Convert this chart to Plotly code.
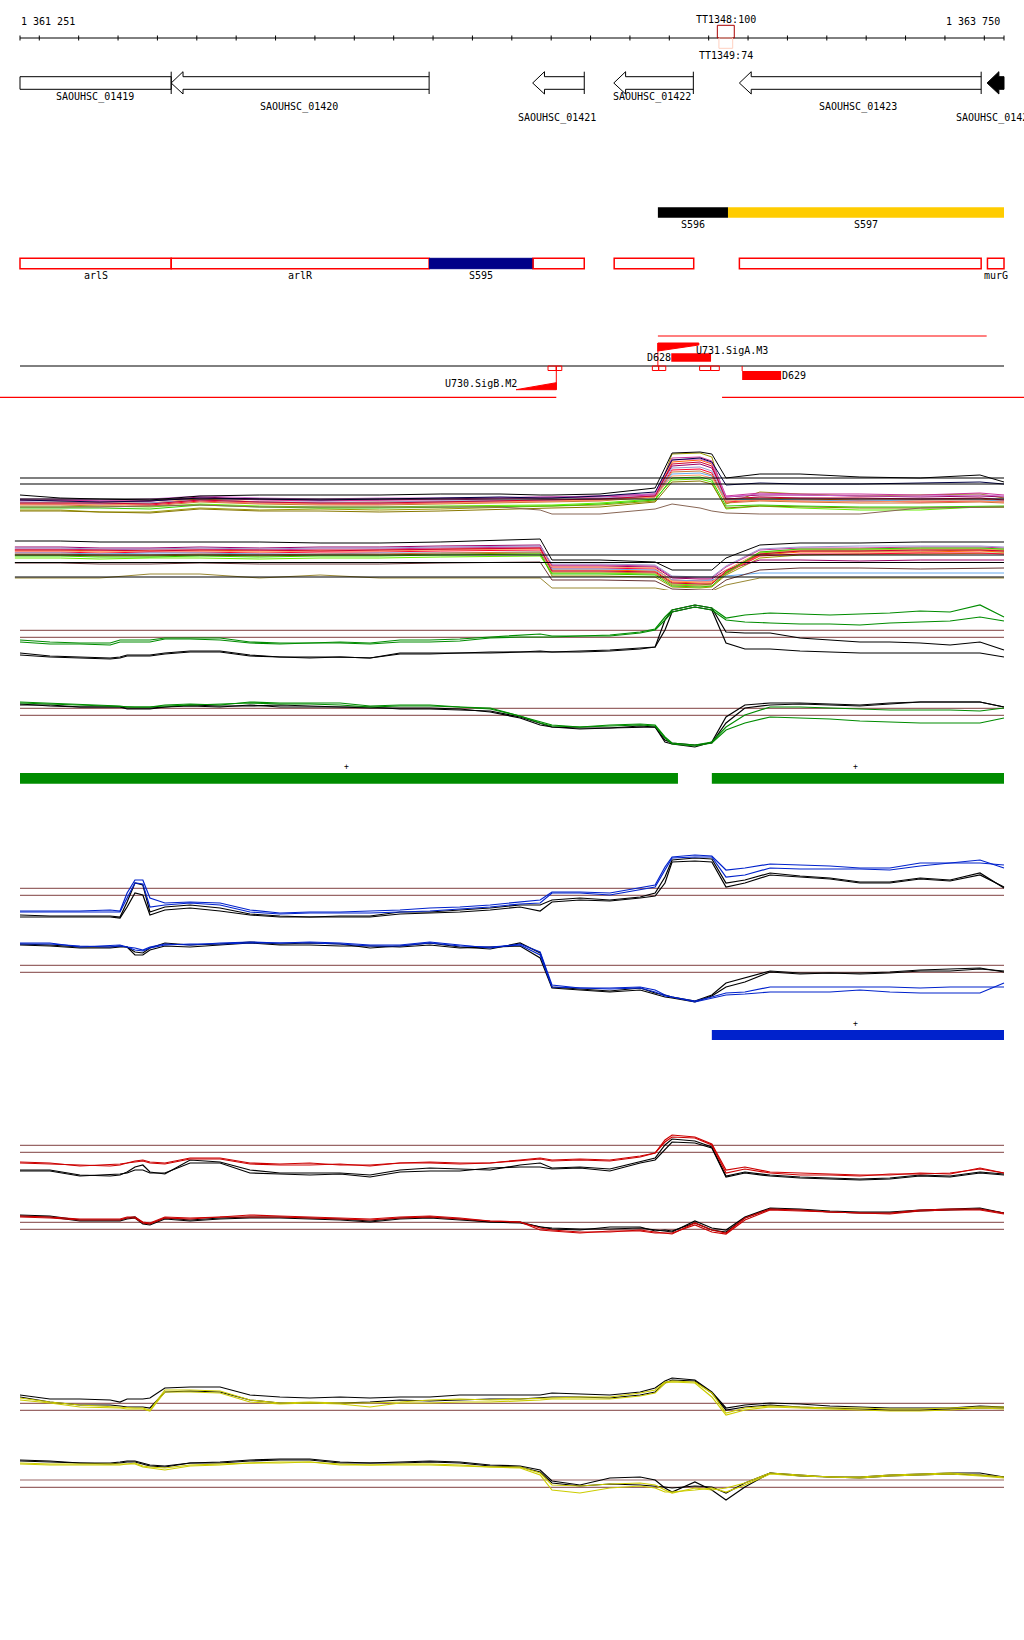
import plotly.graph_objects as go

# ---------------- view / scale ----------------
VIEW_START = 1361251
VIEW_END = 1363750
PLOT_W, PLOT_H = 1024, 1640
PX_LEFT, PX_RIGHT = 20, 1004
BP_PER_PX = (VIEW_END - VIEW_START) / (PX_RIGHT - PX_LEFT)
X_RANGE = [VIEW_START - PX_LEFT * BP_PER_PX, VIEW_END + (PLOT_W - PX_RIGHT) * BP_PER_PX]
FONT = "DejaVu Sans Mono"

SCALE_TICKS = [1361251, 1361300, 1361400, 1361500, 1361600, 1361700, 1361800, 1361900,
               1362000, 1362100, 1362200, 1362300, 1362400, 1362500, 1362600, 1362700,
               1362800, 1362900, 1363000, 1363100, 1363200, 1363300, 1363400, 1363500,
               1363600, 1363700, 1363750]

TERM_NAMES = ["TT1348:100", "TT1349:74"]
TERM_START = [1363022, 1363026]
TERM_END = [1363065, 1363061]

# ---------------- genes (CDS arrows) ----------------
GENE_NAMES = ["SAOUHSC_01419", "SAOUHSC_01420", "SAOUHSC_01421", "SAOUHSC_01422",
              "SAOUHSC_01423", "SAOUHSC_01424"]
GENE_START = [1361251, 1361635, 1362553, 1362759, 1363078, 1363707]
GENE_END = [1361635, 1362290, 1362684, 1362961, 1363692, 1363750]
GENE_HEAD = [False, True, True, True, True, True]
GENE_FILLED = [False, False, False, False, False, True]
GENE_LABEL_X = [1361441, 1361960, 1362615, 1362856, 1363379, 1363626]
GENE_LABEL_ROW = [0, 1, 2, 0, 1, 2]
GENE_LABEL_ANCHOR = ["center", "center", "center", "center", "center", "left"]
HEAD_BP = 30

# ---------------- segments ----------------
SEG_NAMES = ["S596", "S597"]
SEG_START = [1362871, 1363049]
SEG_END = [1363049, 1363750]
SEG_COLORS = ["#000000", "#FFCC00"]

# ---------------- annotated genes / transcripts ----------------
BOX_NAMES = ["arlS", "arlR", "S595", "", "", "", "murG"]
BOX_START = [1361251, 1361635, 1362291, 1362554, 1362760, 1363078, 1363708]
BOX_END = [1361635, 1362290, 1362554, 1362684, 1362962, 1363692, 1363750]
BOX_FILL = [None, None, "#000088", None, None, None, None]

# ---------------- regulatory features ----------------
PROMOTER_NAMES = ["U730.SigB.M2", "U731.SigA.M3"]
PROMOTER_START = [1362511, 1362871]
PROMOTER_END = [1362613, 1362975]
DOWN_NAMES = ["D628", "D629"]
DOWN_START = [1362905, 1363085]
DOWN_END = [1363006, 1363184]
SMALL_BOX_START = [1362592, 1362613, 1362857, 1362873, 1362977, 1363005]
SMALL_BOX_END = [1362613, 1362627, 1362873, 1362891, 1363005, 1363027]
RED_LOW_START = [1361200, 1363034]
RED_LOW_END = [1362613, 1363801]
RED_HIGH_START = [1362871]
RED_HIGH_END = [1363706]

# ---------------- track A: tiling array, many conditions ----------------
XA = [1361251, 1361353, 1361454, 1361581, 1361708, 1361860, 1362013, 1362165, 1362318, 1362470,
      1362572, 1362602, 1362724, 1362864, 1362907, 1362978, 1363008, 1363044, 1363130, 1363232,
      1363384, 1363537, 1363689, 1363750]
XA_LO = [1361238] + XA[1:]

A_UP_COLORS = ["#FF6600", "#999900", "#66EE00", "#990066", "#FF0033", "#66AAEE", "#CC3399",
               "#CC7733", "#FF9966", "#9999CC", "#887700", "#CC0033", "#33CC00", "#CC66CC", "#000044"]
A_UP_SERIES = [
    [97, 98, 97, 97, 101, 98, 97, 98, 98, 99, 100, 100, 101, 104, 138, 140, 136, 100, 102, 101, 100, 100, 101, 99],
    [90, 90, 88, 88, 92, 90, 91, 90, 91, 93, 94, 94, 95, 99, 146, 147, 143, 96, 108, 106, 104, 105, 106, 102],
    [93, 93, 94, 93, 96, 94, 93, 93, 94, 95, 95, 95, 97, 101, 120, 121, 118, 91, 94, 92, 90, 90, 93, 93],
    [100, 100, 99, 99, 103, 101, 100, 100, 101, 102, 103, 103, 104, 106, 134, 136, 132, 103, 105, 105, 104, 103, 104, 103],
    [96, 96, 96, 95, 99, 97, 96, 96, 97, 98, 99, 99, 100, 104, 130, 131, 127, 98, 100, 99, 99, 98, 99, 98],
    [97, 97, 96, 97, 100, 98, 97, 97, 98, 99, 100, 100, 101, 103, 126, 127, 124, 100, 101, 100, 99, 100, 100, 99],
    [99, 100, 99, 99, 102, 100, 99, 100, 100, 101, 102, 102, 103, 105, 142, 143, 139, 104, 107, 106, 106, 105, 107, 105],
    [95, 95, 94, 94, 98, 96, 95, 95, 96, 97, 98, 98, 99, 103, 128, 129, 125, 97, 99, 98, 97, 97, 98, 97],
    [96, 97, 95, 96, 100, 97, 96, 97, 97, 98, 99, 99, 100, 103, 124, 125, 122, 99, 100, 99, 98, 99, 99, 98],
    [98, 98, 97, 97, 100, 98, 98, 98, 99, 100, 100, 100, 102, 104, 132, 133, 129, 101, 103, 102, 101, 101, 102, 101],
    [89, 89, 88, 87, 91, 89, 89, 88, 89, 91, 92, 92, 93, 98, 118, 119, 116, 92, 94, 93, 92, 92, 93, 93],
    [97, 97, 97, 96, 100, 98, 97, 97, 98, 99, 100, 100, 101, 104, 136, 138, 134, 101, 103, 102, 102, 101, 102, 100],
    [92, 92, 92, 91, 95, 93, 92, 92, 93, 94, 94, 94, 96, 100, 122, 123, 120, 94, 95, 94, 93, 93, 94, 94],
    [101, 101, 100, 101, 104, 102, 101, 102, 102, 103, 103, 103, 104, 106, 140, 141, 137, 103, 106, 105, 104, 104, 105, 104],
    [100, 99, 98, 99, 102, 101, 100, 101, 102, 103, 102, 102, 104, 108, 140, 142, 138, 115, 117, 116, 116, 117, 118, 116],
]
A_UP_BLACK = [105, 102, 101, 100, 104, 105, 105, 105, 106, 106, 105, 105, 106, 112, 147, 148, 146, 122, 126, 126, 123, 122, 125, 118]
A_UP_BROWN = [93, 93, 93, 94, 95, 93, 93, 93, 93, 93, 90, 86, 86, 91, 96, 92, 89, 87, 86, 86, 86, 92, 93, 93]
A_UP_REFS = [122, 116, 101]

A_LO_COLORS = ["#FF6600", "#999900", "#66EE00", "#990066", "#FF0033", "#66AAEE", "#CC3399",
               "#CC7733", "#FF9966", "#9999CC", "#663333", "#CC0033", "#33CC00", "#998833"]
A_LO_SERIES = [
    [50, 50, 49, 50, 50, 49, 50, 50, 51, 52, 52, 30, 30, 29, 18, 17, 17, 28, 45, 48, 48, 48, 49, 48],
    [45, 45, 44, 44, 45, 44, 45, 45, 46, 47, 47, 24, 24, 23, 13, 12, 13, 25, 42, 45, 46, 46, 47, 47],
    [42, 42, 41, 42, 42, 41, 42, 42, 43, 44, 44, 27, 27, 26, 16, 15, 16, 28, 47, 50, 50, 51, 51, 50],
    [53, 53, 52, 52, 53, 52, 53, 53, 54, 55, 55, 34, 34, 33, 22, 21, 21, 30, 40, 40, 39, 40, 40, 40],
    [48, 48, 47, 48, 48, 47, 48, 48, 49, 50, 50, 32, 32, 31, 20, 19, 19, 27, 44, 46, 46, 47, 47, 46],
    [47, 47, 46, 47, 47, 46, 46, 47, 47, 48, 48, 31, 31, 30, 20, 19, 20, 24, 27, 27, 27, 27, 27, 27],
    [51, 51, 50, 51, 51, 50, 51, 51, 52, 53, 53, 35, 35, 34, 23, 22, 22, 33, 50, 52, 52, 53, 53, 52],
    [46, 46, 45, 45, 46, 45, 46, 46, 47, 48, 48, 28, 28, 27, 15, 14, 14, 26, 46, 49, 49, 49, 50, 49],
    [49, 49, 48, 49, 49, 48, 49, 49, 50, 51, 51, 33, 33, 32, 19, 18, 18, 30, 48, 50, 51, 51, 51, 50],
    [52, 52, 51, 51, 52, 51, 52, 52, 53, 54, 54, 36, 36, 35, 24, 23, 23, 34, 51, 53, 54, 54, 54, 53],
    [37, 37, 36, 36, 37, 36, 36, 36, 37, 38, 38, 20, 20, 19, 11, 10, 10, 20, 30, 32, 32, 31, 32, 32],
    [50, 50, 50, 49, 50, 50, 49, 50, 51, 52, 52, 29, 29, 28, 17, 16, 16, 29, 46, 49, 49, 50, 50, 49],
    [44, 44, 43, 43, 44, 43, 44, 44, 45, 46, 46, 26, 26, 25, 14, 13, 14, 27, 48, 51, 51, 52, 52, 51],
    [22, 22, 22, 26, 26, 22, 25, 22, 22, 22, 22, 12, 12, 12, 9, 8, 9, 15, 22, 22, 22, 22, 22, 22],
]
A_LO_BLACK = [59, 59, 58, 58, 58, 58, 57, 57, 58, 60, 61, 40, 40, 38, 30, 30, 30, 42, 55, 57, 57, 58, 58, 58]
A_LO_REFS = [45, 37.5, 23]

# ---------------- tracks B-E: paired conditions ----------------
XG = [1361251, 1361327, 1361403, 1361480, 1361505, 1361523, 1361543, 1361563, 1361581, 1361619,
      1361683, 1361759, 1361835, 1361911, 1361987, 1362064, 1362140, 1362216, 1362292, 1362368,
      1362445, 1362521, 1362572, 1362602, 1362673, 1362749, 1362826, 1362864, 1362889, 1362907,
      1362965, 1363008, 1363044, 1363092, 1363156, 1363232, 1363308, 1363384, 1363460, 1363537,
      1363613, 1363689, 1363750]

B_UP_G1 = [120, 118, 117, 117, 120, 120, 120, 120, 120, 122, 122, 122, 118, 117, 117, 118, 117, 120, 120, 121, 123, 125, 126, 124, 124, 125, 128, 131, 143, 150, 155, 152, 142, 145, 147, 146, 145, 146, 147, 149, 148, 155, 143]
B_UP_G2 = [118, 116, 116, 115, 118, 118, 118, 118, 118, 121, 121, 120, 117, 116, 117, 117, 116, 118, 118, 119, 122, 123, 123, 123, 124, 124, 127, 130, 140, 148, 153, 150, 140, 138, 137, 136, 136, 135, 137, 138, 139, 143, 139]
B_UP_K1 = [107, 104, 103, 102, 103, 105, 105, 105, 105, 107, 109, 109, 105, 103, 103, 103, 102, 107, 107, 107, 108, 108, 109, 108, 109, 110, 112, 113, 140, 150, 155, 152, 128, 127, 127, 122, 120, 118, 118, 117, 115, 118, 110]
B_UP_K2 = [105, 103, 102, 101, 102, 104, 104, 104, 104, 106, 108, 108, 104, 103, 102, 103, 102, 106, 106, 107, 107, 108, 108, 108, 108, 109, 111, 113, 130, 148, 153, 150, 117, 111, 111, 109, 108, 107, 107, 107, 107, 107, 103]
B_DN_G1 = [58, 57, 56, 55, 54, 53, 53, 53, 53, 55, 56, 55, 58, 57, 57, 57, 54, 55, 55, 53, 52, 44, 38, 35, 33, 35, 36, 35, 23, 17, 15, 18, 33, 45, 53, 53, 52, 51, 50, 50, 50, 49, 52]
B_DN_G2 = [57, 56, 55, 54, 53, 53, 53, 53, 53, 54, 55, 56, 57, 56, 56, 55, 53, 54, 54, 53, 51, 44, 37, 34, 33, 34, 35, 34, 22, 16, 14, 17, 30, 37, 43, 42, 41, 39, 38, 37, 37, 37, 42]
B_DN_K1 = [55, 55, 53, 53, 53, 52, 52, 52, 52, 53, 55, 54, 54, 55, 54, 53, 52, 52, 52, 51, 48, 42, 35, 33, 31, 32, 33, 33, 18, 16, 13, 18, 43, 55, 57, 57, 56, 55, 57, 58, 58, 58, 53]
B_DN_K2 = [56, 54, 53, 53, 53, 51, 51, 51, 51, 53, 54, 53, 55, 53, 53, 53, 53, 51, 51, 50, 49, 43, 37, 33, 32, 32, 34, 33, 20, 17, 15, 17, 37, 52, 55, 56, 55, 54, 56, 58, 58, 58, 53]
B_REFS = [129.7, 122.7, 51.7, 44.7]

C_UP_B1 = [99, 99, 99, 100, 99, 117, 130, 130, 112, 107, 108, 107, 100, 97, 98, 98, 99, 100, 102, 103, 105, 108, 110, 118, 118, 117, 122, 125, 143, 153, 155, 154, 140, 142, 146, 145, 144, 142, 142, 147, 147, 150, 142]
C_UP_B2 = [98, 98, 98, 98, 98, 112, 127, 126, 103, 105, 107, 105, 98, 96, 97, 97, 97, 98, 99, 101, 103, 106, 107, 117, 117, 115, 120, 123, 140, 152, 153, 153, 133, 135, 142, 141, 141, 141, 140, 144, 147, 147, 145]
C_UP_K1 = [95, 94, 94, 94, 93, 108, 127, 125, 98, 103, 105, 102, 96, 94, 93, 94, 94, 98, 98, 100, 102, 105, 105, 110, 112, 110, 113, 117, 133, 150, 152, 151, 127, 130, 137, 134, 132, 128, 128, 132, 130, 137, 122]
C_UP_K2 = [93, 93, 93, 93, 92, 103, 117, 115, 95, 100, 102, 99, 95, 93, 93, 93, 93, 96, 97, 98, 100, 103, 99, 108, 110, 109, 112, 114, 127, 148, 149, 148, 123, 127, 135, 133, 131, 127, 127, 131, 129, 135, 123]
C_DN_B1 = [67, 67, 63, 64, 65, 63, 62, 60, 63, 66, 65, 67, 68, 67, 68, 67, 65, 65, 68, 65, 62, 66, 58, 25, 22, 22, 23, 20, 15, 13, 9, 13, 17, 18, 23, 23, 23, 23, 23, 22, 23, 23, 23]
C_DN_B2 = [66, 66, 64, 63, 64, 63, 60, 59, 62, 65, 66, 66, 67, 67, 67, 66, 64, 64, 67, 64, 63, 65, 55, 23, 22, 21, 22, 18, 14, 13, 8, 12, 15, 16, 18, 18, 18, 20, 18, 17, 17, 17, 27]
C_DN_K1 = [66, 65, 63, 63, 64, 63, 58, 57, 62, 67, 65, 66, 68, 66, 67, 66, 62, 64, 67, 63, 61, 67, 57, 23, 21, 19, 22, 17, 15, 13, 9, 15, 27, 32, 39, 37, 37, 37, 38, 40, 41, 42, 38]
C_DN_K2 = [65, 64, 62, 62, 63, 63, 55, 55, 60, 64, 63, 65, 67, 65, 65, 64, 64, 63, 65, 62, 63, 64, 52, 22, 20, 18, 20, 16, 13, 12, 8, 14, 23, 28, 38, 36, 37, 36, 37, 39, 39, 41, 39]
C_REFS = [121.7, 114.7, 44.7, 37.7]

D_UP_R1 = [128, 127, 124, 125, 126, 127, 129, 130, 128, 127, 132, 132, 127, 126, 127, 125, 125, 127, 128, 127, 127, 130, 132, 130, 131, 130, 134, 137, 150, 155, 153, 146, 120, 123, 118, 117, 116, 115, 115, 117, 116, 122, 117]
D_UP_R2 = [127, 126, 125, 124, 125, 127, 128, 129, 127, 126, 131, 131, 126, 125, 125, 126, 124, 127, 127, 126, 127, 129, 131, 129, 130, 129, 133, 137, 148, 153, 152, 145, 117, 121, 117, 115, 115, 114, 116, 116, 117, 121, 117]
D_UP_K1 = [120, 120, 115, 114, 115, 118, 123, 125, 118, 116, 130, 128, 120, 117, 117, 117, 115, 120, 122, 121, 120, 125, 127, 122, 123, 121, 128, 132, 145, 151, 149, 143, 114, 118, 115, 113, 112, 111, 112, 115, 114, 118, 116]
D_UP_K2 = [119, 119, 114, 115, 116, 117, 120, 120, 117, 117, 127, 127, 117, 116, 115, 116, 113, 118, 119, 119, 122, 123, 123, 121, 122, 119, 127, 130, 140, 148, 147, 142, 113, 117, 114, 112, 111, 110, 111, 114, 113, 117, 115]
D_DN_R1 = [74, 73, 71, 71, 71, 73, 73, 68, 67, 73, 72, 73, 75, 74, 73, 72, 71, 73, 74, 72, 69, 68, 62, 60, 58, 58, 60, 58, 57, 56, 67, 60, 57, 72, 81, 80, 78, 77, 77, 80, 81, 81, 77]
D_DN_R2 = [73, 72, 70, 70, 70, 72, 72, 67, 66, 72, 71, 73, 73, 73, 72, 71, 70, 72, 73, 71, 69, 68, 60, 59, 57, 59, 59, 57, 57, 57, 65, 58, 56, 70, 80, 79, 78, 77, 76, 79, 80, 80, 76]
D_DN_K1 = [75, 74, 70, 70, 70, 72, 73, 67, 66, 72, 70, 72, 73, 73, 72, 71, 69, 72, 73, 71, 68, 68, 63, 62, 61, 61, 62, 60, 59, 58, 69, 62, 60, 73, 82, 81, 79, 78, 78, 80, 81, 82, 77]
D_DN_K2 = [74, 73, 69, 69, 69, 71, 72, 66, 65, 71, 69, 71, 72, 72, 71, 70, 68, 71, 72, 70, 68, 67, 63, 61, 60, 63, 63, 59, 60, 59, 67, 60, 58, 72, 81, 80, 78, 77, 77, 79, 80, 81, 77]
D_REFS = [144.7, 137.7, 67.7, 60.7]

E_UP_K1 = [135, 131, 131, 130, 128, 131, 131, 131, 132, 142, 143, 143, 135, 133, 132, 133, 132, 133, 133, 135, 135, 135, 135, 137, 136, 135, 138, 142, 149, 152, 150, 138, 122, 125, 127, 126, 124, 123, 122, 122, 122, 124, 123]
E_UP_K2 = [133, 128, 125, 125, 124, 123, 123, 123, 122, 138, 139, 138, 130, 127, 127, 127, 128, 130, 129, 130, 131, 131, 132, 133, 133, 132, 135, 138, 147, 150, 149, 137, 120, 123, 125, 123, 122, 121, 120, 120, 121, 122, 122]
E_UP_Y1 = [132, 128, 125, 123, 123, 122, 122, 122, 120, 140, 140, 139, 130, 127, 128, 127, 127, 128, 130, 131, 130, 131, 132, 132, 133, 133, 137, 140, 148, 149, 148, 137, 117, 122, 124, 123, 122, 122, 121, 121, 122, 123, 123]
E_UP_Y2 = [130, 127, 123, 122, 122, 121, 121, 121, 119, 138, 138, 137, 128, 126, 127, 126, 123, 127, 127, 128, 128, 129, 130, 131, 131, 131, 134, 137, 147, 148, 147, 133, 115, 120, 123, 122, 121, 120, 119, 119, 120, 122, 121]
E_DN_K1 = [70, 69, 67, 67, 68, 69, 69, 67, 65, 64, 67, 68, 70, 71, 71, 68, 67, 68, 69, 68, 65, 64, 60, 49, 45, 52, 53, 50, 42, 38, 48, 40, 30, 43, 57, 55, 53, 53, 55, 56, 57, 57, 53]
E_DN_K2 = [69, 68, 67, 66, 67, 68, 68, 66, 64, 63, 67, 67, 69, 70, 70, 67, 67, 67, 68, 67, 64, 63, 58, 47, 44, 46, 45, 44, 43, 42, 44, 43, 37, 47, 57, 54, 53, 52, 54, 55, 56, 55, 53]
E_DN_Y1 = [67, 66, 66, 66, 66, 66, 67, 64, 63, 62, 65, 66, 67, 68, 68, 66, 65, 66, 66, 65, 63, 63, 57, 45, 44, 46, 47, 45, 40, 37, 42, 40, 42, 47, 57, 55, 53, 53, 55, 56, 57, 55, 53]
E_DN_Y2 = [66, 65, 65, 65, 65, 66, 66, 63, 62, 60, 64, 65, 67, 67, 68, 65, 65, 65, 65, 64, 63, 62, 55, 40, 37, 42, 44, 42, 38, 38, 40, 42, 38, 45, 56, 54, 53, 52, 54, 55, 56, 54, 52]
E_REFS = [126.7, 119.7, 50, 42.7]

# strand-specific expressed regions
GREEN_BAR_START = [1361251, 1363008]
GREEN_BAR_END = [1362922, 1363750]
GREEN_PLUS_X = [1362080, 1363373]
BLUE_BAR_START = [1363008]
BLUE_BAR_END = [1363750]
BLUE_PLUS_X = [1363373]

REF_COLOR = "#996666"
GREEN = "#008C00"
BLUE = "#0022CC"
RED = "#CC0000"
YELLOW = "#CCCC00"

# ---------------- build ----------------
fig = go.Figure()
shapes = []
annotations = []


def add_line(x0, x1, y0, y1, color="black", width=1):
    shapes.append(dict(type="line", xref="x", yref="y", x0=x0, x1=x1, y0=y0, y1=y1,
                       line=dict(color=color, width=width)))


def add_rect(x0, x1, y0, y1, line_color, fill="rgba(0,0,0,0)", width=1):
    shapes.append(dict(type="rect", xref="x", yref="y", x0=x0, x1=x1, y0=y0, y1=y1,
                       line=dict(color=line_color, width=width), fillcolor=fill))


def add_path(d, color, fill="rgba(0,0,0,0)", width=1):
    shapes.append(dict(type="path", xref="x", yref="y", path=d,
                       line=dict(color=color, width=width), fillcolor=fill))


def add_text(x, y, s, anchor="center", size=10, color="black", xshift=0):
    annotations.append(dict(x=x, y=y, xref="x", yref="y", text=s, showarrow=False,
                            xanchor=anchor, yanchor="middle", xshift=xshift, borderpad=0,
                            font=dict(family=FONT, size=size, color=color)))


def add_series(xs, ys, color, axis, width=1):
    fig.add_trace(go.Scatter(x=xs, y=ys, mode="lines", line=dict(color=color, width=width),
                             yaxis=axis, hoverinfo="skip", showlegend=False))


# scale bar
add_line(VIEW_START, VIEW_END, 38, 38)
for t in SCALE_TICKS:
    add_line(t, t, 35.5, 40.5)
add_text(VIEW_START, 21, "1 361 251", anchor="left")
add_text(VIEW_END, 21, "1 363 750", anchor="right", xshift=-3)
add_rect(TERM_START[0], TERM_END[0], 25.3, 38, "#AA0000")
add_rect(TERM_START[1], TERM_END[1], 38, 48.3, "#FFD0C0")
add_text((TERM_START[0] + TERM_END[0]) / 2, 19, TERM_NAMES[0])
add_text((TERM_START[0] + TERM_END[0]) / 2, 55, TERM_NAMES[1])

# gene arrows
YC, BT, BB, HT, HB = 83, 76.7, 89.3, 71.7, 94
LABEL_ROWS = [97, 107, 118]
for name, s, e, head, filled, lx, row, anc in zip(GENE_NAMES, GENE_START, GENE_END, GENE_HEAD,
                                                   GENE_FILLED, GENE_LABEL_X, GENE_LABEL_ROW,
                                                   GENE_LABEL_ANCHOR):
    if head:
        h = s + HEAD_BP
        d = (f"M{e},{BT} L{h},{BT} L{h},{HT} L{s},{YC} L{h},{HB} L{h},{BB} L{e},{BB}")
        if filled:
            add_path(d + " Z", "black", fill="black")
        else:
            add_path(d, "black")
    else:
        add_path(f"M{s},{BT} L{e},{BT} L{e},{BB} L{s},{BB} Z", "black")
    if not filled:
        add_line(e, e, HT, HB)
    add_text(lx, LABEL_ROWS[row], name, anchor=anc)

# segments
for name, s, e, c in zip(SEG_NAMES, SEG_START, SEG_END, SEG_COLORS):
    add_rect(s, e, 207.3, 217.7, c, fill=c, width=0)
    add_text((s + e) / 2, 224, name)

# annotated gene boxes
for name, s, e, f in zip(BOX_NAMES, BOX_START, BOX_END, BOX_FILL):
    if f:
        add_rect(s, e, 258.3, 268.7, f, fill=f, width=1)
    else:
        add_rect(s, e, 258.3, 268.7, "#FF0000", width=1.5)
    if name:
        add_text((s + e) / 2, 275, name)

# regulatory features
add_line(VIEW_START, VIEW_END, 366, 366)
for s, e in zip(RED_LOW_START, RED_LOW_END):
    add_line(s, e, 397.3, 397.3, color="#FF0000", width=1.2)
for s, e in zip(RED_HIGH_START, RED_HIGH_END):
    add_line(s, e, 336, 336, color="#FF0000", width=1.2)
# SigB promoter (minus strand, below the line)
s, e = PROMOTER_START[0], PROMOTER_END[0]
add_path(f"M{s},389.7 L{e},389.7 L{e},382.7 Z", "#FF0000", fill="#FF0000")
add_line(e, e, 366, 389.7, color="#FF0000")
add_text(s, 383, PROMOTER_NAMES[0], anchor="right", xshift=2)
# SigA promoter (plus strand, above the line)
s, e = PROMOTER_START[1], PROMOTER_END[1]
add_path(f"M{s},343 L{e},343 L{e},345 L{s},351 Z", "#FF0000", fill="#FF0000")
add_line(s, s, 343, 366, color="#FF0000")
add_text(e, 350, PROMOTER_NAMES[1], anchor="left", xshift=-4)
# downstream features
add_rect(DOWN_START[0], DOWN_END[0], 353.3, 361.7, "#FF0000", fill="#FF0000", width=0)
add_text(DOWN_START[0], 357.7, DOWN_NAMES[0], anchor="right", xshift=1)
add_rect(DOWN_START[1], DOWN_END[1], 371, 380, "#FF0000", fill="#FF0000", width=0)
add_line(DOWN_START[1], DOWN_START[1], 366, 371, color="#FF0000")
add_text(DOWN_END[1], 375.7, DOWN_NAMES[1], anchor="left")
for s, e in zip(SMALL_BOX_START, SMALL_BOX_END):
    add_rect(s, e, 366, 370.5, "#FF0000", width=1)

# ---------------- track A ----------------
for ys, c in zip(A_UP_SERIES, A_UP_COLORS):
    add_series(XA, ys, c, "y2")
add_series(XA, A_UP_BROWN, "#886655", "y2")
add_series(XA, A_UP_BLACK, "#000000", "y2")
for ys, c in zip(A_LO_SERIES, A_LO_COLORS):
    add_series(XA_LO, ys, c, "y2")
add_series(XA_LO, A_LO_BLACK, "#000000", "y2")
for v in A_UP_REFS:
    add_series([VIEW_START, VIEW_END], [v, v], "#000000", "y2", width=1.2)
for v in A_LO_REFS:
    add_series([XA_LO[0], VIEW_END], [v, v], "#000000", "y2", width=1.2)

# ---------------- tracks B-E ----------------
TRACKS = [
    ("y3", GREEN, [B_UP_K1, B_UP_K2, B_DN_K1, B_DN_K2], [B_UP_G1, B_UP_G2, B_DN_G1, B_DN_G2], B_REFS),
    ("y4", BLUE, [C_UP_K1, C_UP_K2, C_DN_K1, C_DN_K2], [C_UP_B1, C_UP_B2, C_DN_B1, C_DN_B2], C_REFS),
    ("y5", RED, [D_UP_K1, D_UP_K2, D_DN_K1, D_DN_K2], [D_UP_R1, D_UP_R2, D_DN_R1, D_DN_R2], D_REFS),
    ("y6", YELLOW, [E_UP_K1, E_UP_K2, E_DN_K1, E_DN_K2], [E_UP_Y1, E_UP_Y2, E_DN_Y1, E_DN_Y2], E_REFS),
]
for axis, color, blacks, colored, refs in TRACKS:
    for v in refs:
        add_series([VIEW_START, VIEW_END], [v, v], REF_COLOR, axis, width=1.2)
    for ys in blacks:
        add_series(XG, ys, "#000000", axis, width=1.2)
    for ys in colored:
        add_series(XG, ys, color, axis, width=1.2)

# expressed-region bars
for s, e in zip(GREEN_BAR_START, GREEN_BAR_END):
    add_rect(s, e, 773, 783.7, GREEN, fill=GREEN, width=0)
for x in GREEN_PLUS_X:
    add_text(x, 766, "+", size=8)
for s, e in zip(BLUE_BAR_START, BLUE_BAR_END):
    add_rect(s, e, 1030, 1040, BLUE, fill=BLUE, width=0)
for x in BLUE_PLUS_X:
    add_text(x, 1023, "+", size=8)


def band_axis(top_px, bottom_px, height_units):
    return dict(domain=[1 - bottom_px / PLOT_H, 1 - top_px / PLOT_H], range=[0, height_units],
                visible=False, anchor="x", fixedrange=True)


fig.update_layout(
    width=PLOT_W, height=PLOT_H,
    margin=dict(l=0, r=0, t=0, b=0),
    paper_bgcolor="white", plot_bgcolor="white",
    showlegend=False,
    xaxis=dict(range=X_RANGE, visible=False, domain=[0, 1], fixedrange=True),
    yaxis=dict(range=[PLOT_H, 0], visible=False, domain=[0, 1], fixedrange=True),
    yaxis2=band_axis(440, 600, 160),
    yaxis3=band_axis(590, 760, 170),
    yaxis4=band_axis(840, 1010, 170),
    yaxis5=band_axis(1120, 1290, 170),
    yaxis6=band_axis(1360, 1530, 170),
    shapes=shapes,
    annotations=annotations,
)

fig.write_html("out.html", config={"displayModeBar": False},
               post_script="document.body.style.margin='0px';document.body.style.overflow='hidden';")
